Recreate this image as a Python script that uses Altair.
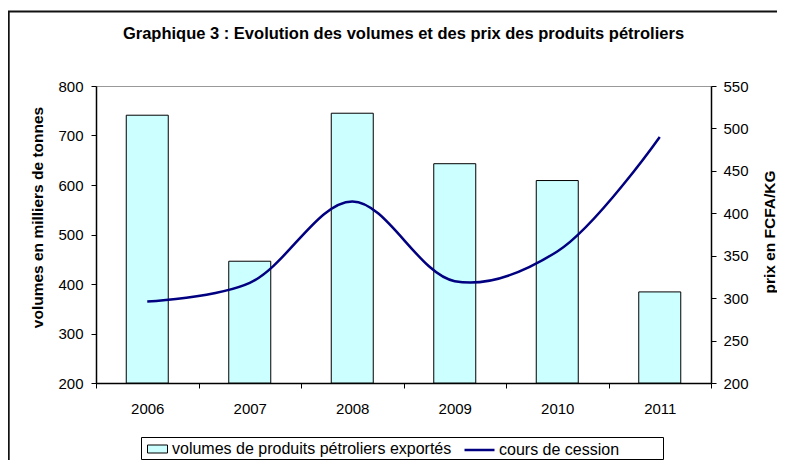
import altair as alt
import pandas as pd

years = ["2006", "2007", "2008", "2009", "2010", "2011"]
volumes = [741, 446, 745, 643, 609, 384]
prix = [296, 318, 414, 320, 355, 490]

TITLE = "Graphique 3 : Evolution des volumes et des prix des produits pétroliers"
S_BAR = "volumes de produits pétroliers exportés"
S_LINE = "cours de cession"

df_bar = pd.DataFrame({"annee": years, "volume": volumes, "serie": S_BAR})
df_line = pd.DataFrame({"annee": years, "prix": prix, "serie": S_LINE})

FONT = "Liberation Sans"

legend_common = dict(orient="none", direction="horizontal", title=None, padding=0,
                     labelFont=FONT, labelFontSize=16, labelColor="#000000",
                     labelLimit=0, symbolSize=400)

xenc = alt.X("annee:N", title=None,
             scale=alt.Scale(paddingInner=0, paddingOuter=0),
             axis=alt.Axis(labelAngle=0, tickBand="extent", tickSize=5,
                           labelPadding=13, domainColor="#000000",
                           tickColor="#000000", labelFont=FONT, labelFontSize=15,
                           labelColor="#000000"))

one = pd.DataFrame({"t": [TITLE]})
frame = alt.Chart(one).mark_rect(
    fill="transparent", stroke="#111111", strokeWidth=2, clip=False
).encode(x=alt.value(-87.3), x2=alt.value(800), y=alt.value(-74.5), y2=alt.value(700))

title_mark = alt.Chart(one).mark_text(
    font=FONT, fontSize=16.5, fontWeight="bold", color="#000000",
    align="center", baseline="alphabetic", clip=False
).encode(x=alt.value(307.5), y=alt.value(-47), text="t:N")

legend_box = alt.Chart(one).mark_rect(
    fill="transparent", stroke="#000000", strokeWidth=1, clip=False
).encode(x=alt.value(45.5), x2=alt.value(567.5), y=alt.value(351.5), y2=alt.value(373.5))

bars = alt.Chart(df_bar).mark_bar(size=42, stroke="#000000", strokeWidth=1).encode(
    x=xenc,
    y=alt.Y("volume:Q", title="volumes en milliers de tonnes",
            scale=alt.Scale(domain=[200, 800], nice=False, zero=False),
            axis=alt.Axis(values=[200, 300, 400, 500, 600, 700, 800], orient="left",
                          grid=False, tickSize=5, labelPadding=8, domainColor="#000000",
                          tickColor="#000000", labelFont=FONT, labelFontSize=15,
                          labelColor="#000000", titleFont=FONT, titleFontSize=15.5,
                          titleFontWeight="bold", titleColor="#000000",
                          titleAngle=270, titleAlign="center", titleBaseline="middle",
                          titleX=-59, titleY=131)),
    y2=alt.datum(200),
    fill=alt.Fill("serie:N", scale=alt.Scale(domain=[S_BAR], range=["#CCFFFF"]),
                  legend=alt.Legend(legendX=51, legendY=352.5,
                                    symbolType="M-1,-0.4H1V0.4H-1Z",
                                    symbolStrokeColor="#000000", symbolStrokeWidth=1,
                                    symbolOpacity=1, labelOffset=4, **legend_common)),
)

line = alt.Chart(df_line).mark_line(interpolate="catmull-rom", strokeWidth=2.5).encode(
    x=alt.X("annee:N"),
    y=alt.Y("prix:Q", title="prix en FCFA/KG",
            scale=alt.Scale(domain=[200, 550], nice=False, zero=False),
            axis=alt.Axis(values=[200, 250, 300, 350, 400, 450, 500, 550], orient="right",
                          grid=False, tickSize=5, labelPadding=7, domainColor="#000000",
                          tickColor="#000000", labelFont=FONT, labelFontSize=15,
                          labelColor="#000000", titleFont=FONT, titleFontSize=15.5,
                          titleFontWeight="bold", titleColor="#000000",
                          titleAngle=270, titleAlign="center", titleBaseline="middle",
                          titleX=58, titleY=145.5)),
    stroke=alt.Stroke("serie:N", scale=alt.Scale(domain=[S_LINE], range=["#000080"]),
                      legend=alt.Legend(legendX=372, legendY=352.5,
                                        symbolType="M-1.5,0H1.5",
                                        symbolStrokeWidth=2.5, labelOffset=8,
                                        **legend_common)),
)

chart = alt.layer(frame, title_mark, legend_box, bars, line).resolve_scale(
    y="independent"
).properties(
    width=615, height=297,
    autosize=alt.AutoSizeParams(type="none"),
    padding={"left": 88, "top": 78, "right": 66, "bottom": 77},
).configure_view(stroke="#999999", strokeWidth=1).configure_axis(domainWidth=1.5)

chart.save("out.html", embed_options={"renderer": "svg", "actions": False})
